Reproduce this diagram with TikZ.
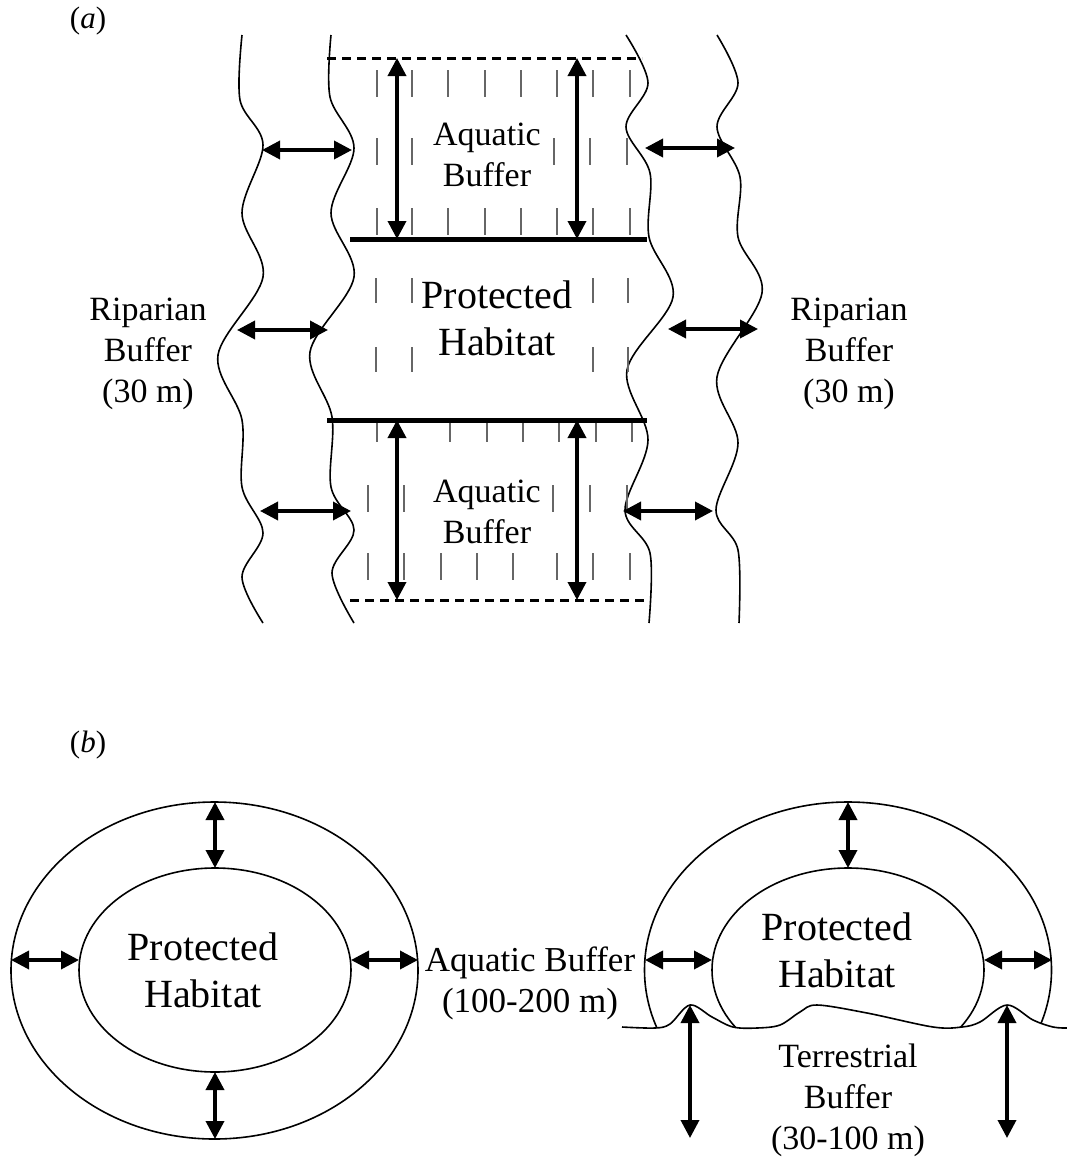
\documentclass[tikz,border=0pt]{standalone}
\usepackage{fontspec}
\setmainfont{Liberation Serif}
\usetikzlibrary{arrows.meta}
\begin{document}
\begin{tikzpicture}[x=1pt,y=-1pt,
  wave/.style={line width=1.6pt},
  hatch/.style={line width=1.3pt, draw=black!60},
  dbl/.style={line width=3.6pt, {Triangle[length=18pt,width=18pt]}-{Triangle[length=18pt,width=18pt]}},
  bar/.style={line width=5pt},
  dashline/.style={line width=3pt, dash pattern=on 9pt off 6pt},
  lbl/.style={align=center, inner sep=0pt},
  txtA/.style={lbl, font=\fontsize{34}{41}\selectfont},
  txtP/.style={lbl, font=\fontsize{40}{47}\selectfont},
]
\useasboundingbox (0,0) rectangle (1066,1159);

% ---------------- (a) ----------------
\node[lbl, font=\fontsize{31}{36}\selectfont] (lba) at (88,21) {(\textit{a})};

% wavy banks
\draw[wave] plot[smooth, tension=0.55] coordinates {(242,35) (240,100) (263,145) (242,213) (263,277) (218,355) (242,420) (242,487) (263,533) (242,577) (263,623)};
\draw[wave] plot[smooth, tension=0.55] coordinates {(331,35) (330,97) (354,148) (331,213) (354,277) (310,352) (332,417) (331,487) (354,530) (332,573) (354,623)};
\draw[wave] plot[smooth, tension=0.55] coordinates {(626,35) (648,83) (626,127) (650,173) (649,237) (673,297) (627,370) (648,440) (625,510) (650,553) (649,623)};
\draw[wave] plot[smooth, tension=0.55] coordinates {(717,35) (738,83) (717,127) (740,177) (738,237) (762,293) (717,377) (738,443) (716,510) (738,550) (739,623)};

% hatch marks
\foreach \x in {377,412,448,485,521,557,593,630} {\draw[hatch] (\x,70) -- (\x,97); \draw[hatch] (\x,208) -- (\x,235);}
\foreach \x in {377,412,554,590,627} {\draw[hatch] (\x,138) -- (\x,165);}
\foreach \x in {376,412,593,628} {\draw[hatch] (\x,278) -- (\x,303); \draw[hatch] (\x,347) -- (\x,372);}
\foreach \x in {377,450,487,523,559,596,632} {\draw[hatch] (\x,420) -- (\x,442);}
\foreach \x in {368,404,553,590,627} {\draw[hatch] (\x,485) -- (\x,512);}
\foreach \x in {368,404,441,477,513,557,593,630} {\draw[hatch] (\x,553) -- (\x,580);}

% boundary lines
\coordinate (d1l) at (327,58);  \coordinate (d1r) at (642,58);
\coordinate (t1l) at (350,239); \coordinate (t1r) at (647,239);
\coordinate (t2l) at (327,420); \coordinate (t2r) at (647,420);
\coordinate (d2l) at (350,600); \coordinate (d2r) at (647,600);
\draw[dashline] (d1l) -- (d1r);
\draw[bar] (t1l) -- (t1r);
\draw[bar] (t2l) -- (t2r);
\draw[dashline] (d2l) -- (d2r);

% vertical arrows
\draw[dbl] (397,58) -- (397,239);
\draw[dbl] (577,58) -- (577,239);
\draw[dbl] (397,420) -- (397,600);
\draw[dbl] (577,420) -- (577,600);

% horizontal arrows
\draw[dbl] (262,150) -- (352,150);
\draw[dbl] (237,330) -- (328,330);
\draw[dbl] (260,511) -- (351,511);
\draw[dbl] (645,148) -- (735,148);
\draw[dbl] (668,329) -- (758,329);
\draw[dbl] (623,511) -- (713,511);

% labels
\node[txtA] (aqtop) at (487,155) {Aquatic\\Buffer};
\node[txtP] (pha) at (497,318) {Protected\\Habitat};
\node[txtA] (aqbot) at (487,512) {Aquatic\\Buffer};
\node[txtA] (ripL) at (148,354) {Riparian\\Buffer\\(30 m)};
\node[txtA] (ripR) at (849,354) {Riparian\\Buffer\\(30 m)};

% ---------------- (b) ----------------
\node[lbl, font=\fontsize{31}{36}\selectfont] (lbb) at (88,745) {(\textit{b})};

% left rings
\draw[wave] (214.5,970.5) ellipse [x radius=203.5, y radius=168.5];
\draw[wave] (215,970) ellipse [x radius=136, y radius=102];
\draw[dbl] (215,802) -- (215,868);
\draw[dbl] (215,1072) -- (215,1139);
\draw[dbl] (11,960) -- (79,960);
\draw[dbl] (351,960) -- (418,960);
\node[txtP] (phL) at (203,970) {Protected\\Habitat};

\node[lbl, font=\fontsize{35}{41}\selectfont] (aqmid) at (530,983) {Aquatic Buffer\\(100-200 m)};

% right half-rings cut by the shore
\begin{scope}
\clip plot[smooth, tension=0.55] coordinates {(622,1027) (655,1028) (670,1024) (690,1005) (712,1017) (733,1027) (757,1028) (780,1025) (800,1012) (817,1005) (867,1013) (933,1027) (962,1027) (980,1022) (1007,1005) (1033,1020) (1053,1027) (1067,1028)} -- (1070,700) -- (600,700) -- cycle;
\draw[wave] (848,970) ellipse [x radius=203.5, y radius=168];
\draw[wave] (848,970) ellipse [x radius=136, y radius=102];
\end{scope}
\draw[wave] plot[smooth, tension=0.55] coordinates {(622,1027) (655,1028) (670,1024) (690,1005) (712,1017) (733,1027) (757,1028) (780,1025) (800,1012) (817,1005) (867,1013) (933,1027) (962,1027) (980,1022) (1007,1005) (1033,1020) (1053,1027) (1067,1028)};

\draw[dbl] (848,802) -- (848,868);
\draw[dbl] (645,960) -- (712,960);
\draw[dbl] (984,960) -- (1052,960);
\draw[dbl] (690,1005) -- (690,1138);
\draw[dbl] (1007,1005) -- (1007,1138);

\node[txtP] (phR) at (837,950) {Protected\\Habitat};
\node[txtA] (terr) at (848,1100) {Terrestrial\\Buffer\\(30-100 m)};
\end{tikzpicture}
\end{document}
